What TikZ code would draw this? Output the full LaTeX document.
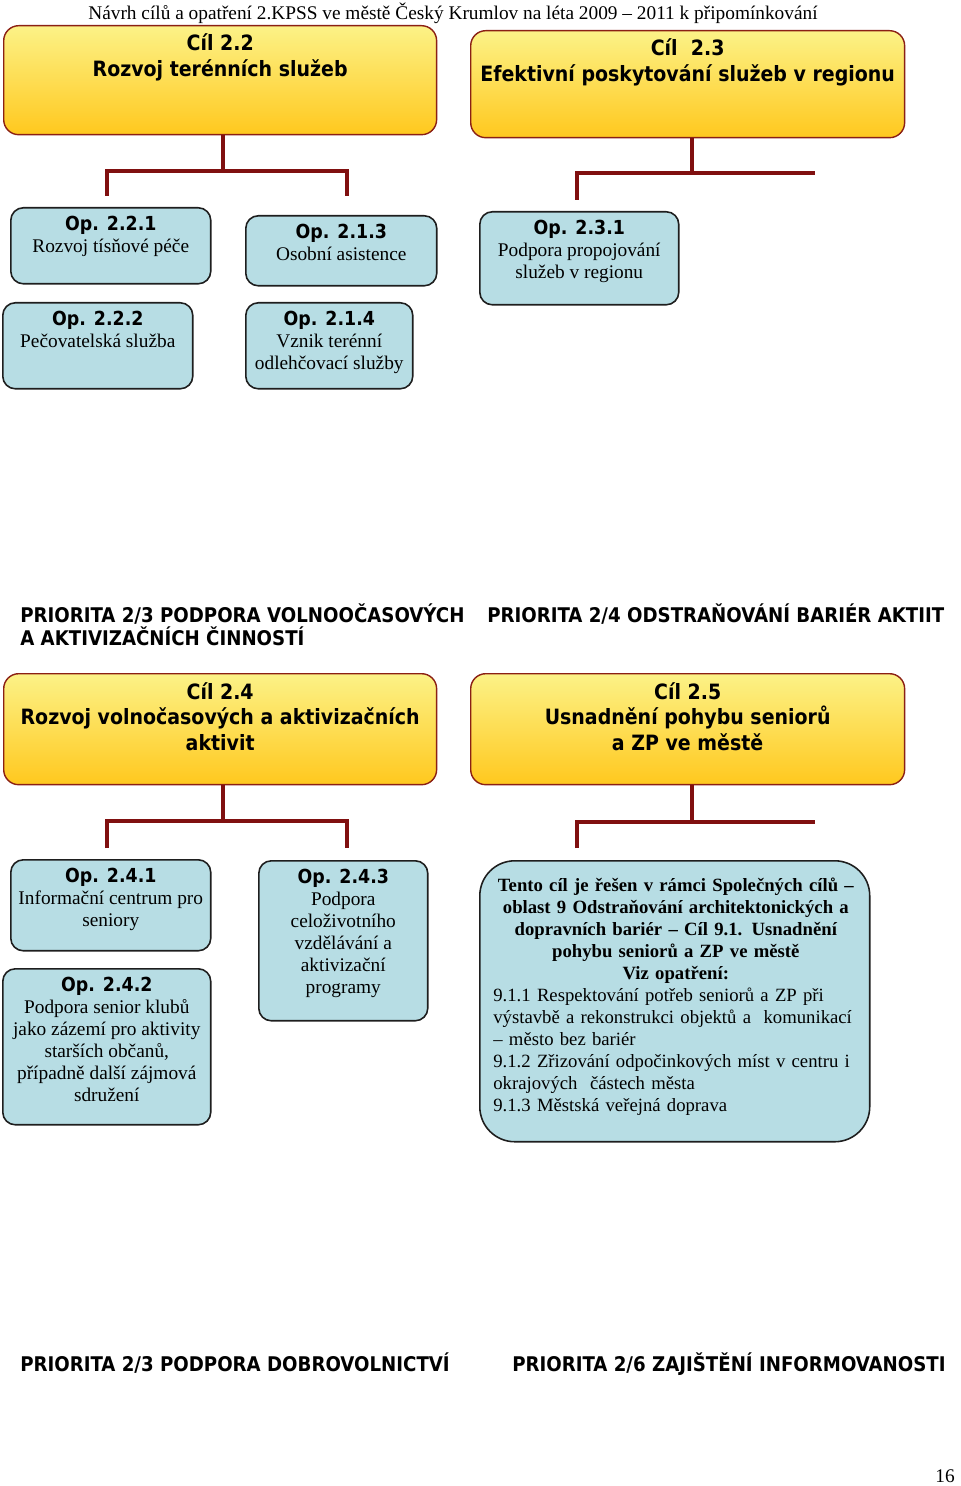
\documentclass[tikz,border=0pt]{standalone}
\usepackage{fontspec}
\setmainfont{Liberation Serif}
\newfontfamily\tahoma{DejaVu Sans Condensed}
\usepackage{tikz}
\usetikzlibrary{positioning, shapes.geometric, backgrounds, calc}
\definecolor{cilborder}{RGB}{139,32,20}
\definecolor{cillight}{RGB}{252,242,135}
\definecolor{cildark}{RGB}{255,200,30}
\definecolor{opfill}{RGB}{183,221,228}
\definecolor{opborder}{RGB}{30,30,30}
\definecolor{treeline}{RGB}{128,16,16}
\newcommand{\opnr}[1]{{\tahoma\bfseries #1}}
\tikzset{
  cilbox/.style={
    rectangle, rounded corners=0.3cm, draw=cilborder, line width=0.8pt,
    top color=cillight, bottom color=cildark, anchor=north west, inner sep=0pt
  },
  cilhead/.style={font=\tahoma\bfseries\fontsize{12}{14.7}\selectfont,
    align=center, inner sep=0pt},
  opbox/.style={
    rectangle, rounded corners=0.25cm, draw=opborder, line width=0.9pt,
    fill=opfill, anchor=north west, inner sep=0pt
  },
  optext/.style={font=\fontsize{11}{12.5}\selectfont, align=center, inner sep=0pt},
  prio/.style={font=\tahoma\bfseries\fontsize{11.5}{13.6}\selectfont,
    align=left, anchor=north west, inner sep=0pt},
  tree/.style={line width=2.4pt, draw=treeline}
}
\begin{document}
\begin{tikzpicture}[x=0.02cm, y=-0.02cm]
  \useasboundingbox (0,0) rectangle (960,1486);

  % header
  \node[font=\fontsize{11}{13}\selectfont, inner sep=0pt] (head) at (453,13)
        {Návrh cílů a opatření 2.KPSS ve městě Český Krumlov na léta 2009 – 2011 k připomínkování};

  % upper goals
  \node[cilbox, minimum width=8.66cm, minimum height=2.18cm] (c22) at (3,25) {};
  \node[cilhead, below=5pt of c22.north] (c22t) {Cíl 2.2\\Rozvoj terénních služeb};
  \node[cilbox, minimum width=8.68cm, minimum height=2.14cm] (c23) at (470,30) {};
  \node[cilhead, below=5pt of c23.north] (c23t) {Cíl\ \ 2.3\\Efektivní poskytování služeb v regionu};

  \coordinate (c22j) at (223,171);
  \coordinate (c22l) at (107,196);
  \coordinate (c22r) at (347,196);
  \draw[tree] (c22.south -| c22j) -- (c22j);
  \draw[tree] (c22l) -- (c22l |- c22j) -- (c22r |- c22j) -- (c22r);
  \coordinate (c23j) at (692,173);
  \coordinate (c23l) at (577,200);
  \coordinate (c23r) at (815,173);
  \draw[tree] (c23.south -| c23j) -- (c23j);
  \draw[tree] (c23l) -- (c23l |- c23j) -- (c23r);

  % measures of 2.2, 2.1, 2.3
  \node[opbox, minimum width=4.0cm, minimum height=1.52cm] (o221) at (10,207) {};
  \node[optext, below=5pt of o221.north] (o221t) {\opnr{Op. 2.2.1}\\Rozvoj tísňové péče};
  \node[opbox, minimum width=3.82cm, minimum height=1.40cm] (o213) at (245,215) {};
  \node[optext, below=5pt of o213.north] (o213t) {\opnr{Op. 2.1.3}\\Osobní asistence};
  \node[opbox, minimum width=3.98cm, minimum height=1.86cm] (o231) at (479,211) {};
  \node[optext, below=5pt of o231.north] (o231t) {\opnr{Op. 2.3.1}\\Podpora propojování\\služeb v regionu};
  \node[opbox, minimum width=3.80cm, minimum height=1.72cm] (o222) at (2,302) {};
  \node[optext, below=5pt of o222.north] (o222t) {\opnr{Op. 2.2.2}\\Pečovatelská služba};
  \node[opbox, minimum width=3.34cm, minimum height=1.72cm] (o214) at (245,302) {};
  \node[optext, below=5pt of o214.north] (o214t) {\opnr{Op. 2.1.4}\\Vznik terénní\\odlehčovací služby};

  % priorities
  \node[prio] (p23) at (20,603) {PRIORITA 2/3 PODPORA VOLNOOČASOVÝCH\\A AKTIVIZAČNÍCH ČINNOSTÍ};
  \node[prio] (p24) at (487,603) {PRIORITA 2/4 ODSTRAŇOVÁNÍ BARIÉR AKTIIT};

  % lower goals
  \node[cilbox, minimum width=8.66cm, minimum height=2.22cm] (c24) at (3,673) {};
  \node[cilhead, below=5pt of c24.north] (c24t) {Cíl 2.4\\Rozvoj volnočasových a aktivizačních\\aktivit};
  \node[cilbox, minimum width=8.68cm, minimum height=2.22cm] (c25) at (470,673) {};
  \node[cilhead, below=5pt of c25.north] (c25t) {Cíl 2.5\\Usnadnění pohybu seniorů\\a ZP ve městě};

  \coordinate (c24j) at (223,821);
  \coordinate (c24l) at (107,848);
  \coordinate (c24r) at (347,848);
  \draw[tree] (c24.south -| c24j) -- (c24j);
  \draw[tree] (c24l) -- (c24l |- c24j) -- (c24r |- c24j) -- (c24r);
  \coordinate (c25j) at (692,822);
  \coordinate (c25l) at (577,848);
  \coordinate (c25r) at (815,822);
  \draw[tree] (c25.south -| c25j) -- (c25j);
  \draw[tree] (c25l) -- (c25l |- c25j) -- (c25r);

  % measures of 2.4
  \node[opbox, minimum width=4.0cm, minimum height=1.82cm] (o241) at (10,859) {};
  \node[optext, below=5pt of o241.north] (o241t) {\opnr{Op. 2.4.1}\\Informační centrum pro\\seniory};
  \node[opbox, minimum width=4.16cm, minimum height=3.12cm] (o242) at (2,968) {};
  \node[optext, below=5pt of o242.north] (o242t) {\opnr{Op. 2.4.2}\\Podpora senior klubů\\jako zázemí pro aktivity\\starších občanů,\\případně další zájmová\\sdružení};
  \node[opbox, minimum width=3.38cm, minimum height=3.20cm] (o243) at (258,860) {};
  \node[optext, below=5pt of o243.north] (o243t) {\opnr{Op. 2.4.3}\\Podpora\\celoživotního\\vzdělávání a\\aktivizační\\programy};

  % common goals box
  \node[opbox, rounded corners=0.7cm, minimum width=7.80cm, minimum height=5.62cm] (spol) at (479,860) {};
  \node[optext, font=\fontsize{10.65}{12.5}\selectfont, align=left, text width=7.3cm,
        anchor=north west] (spolt) at (493,878)
        {\parindent=0pt \hyphenpenalty=10000
         {\centering\bfseries Tento cíl je řešen v rámci Společných cílů –\par
          oblast 9 Odstraňování architektonických a\par
          dopravních bariér – Cíl 9.1. Usnadnění\par
          pohybu seniorů a ZP ve městě\par
          Viz opatření:\par}
         \raggedright
         9.1.1 Respektování potřeb seniorů a ZP při\par
         výstavbě a rekonstrukci objektů a\ \ komunikací\par
         – město bez bariér\par
         9.1.2 Zřizování odpočinkových míst v centru i\par
         okrajových\ \ částech města\par
         9.1.3 Městská veřejná doprava};

  % bottom priorities
  \node[prio] (p23b) at (20,1352) {PRIORITA 2/3 PODPORA DOBROVOLNICTVÍ};
  \node[prio] (p26) at (512,1352) {PRIORITA 2/6 ZAJIŠTĚNÍ INFORMOVANOSTI};

  % page number
  \node[font=\fontsize{11}{13}\selectfont, inner sep=0pt] (page) at (945,1476) {16};
\end{tikzpicture}
\end{document}
